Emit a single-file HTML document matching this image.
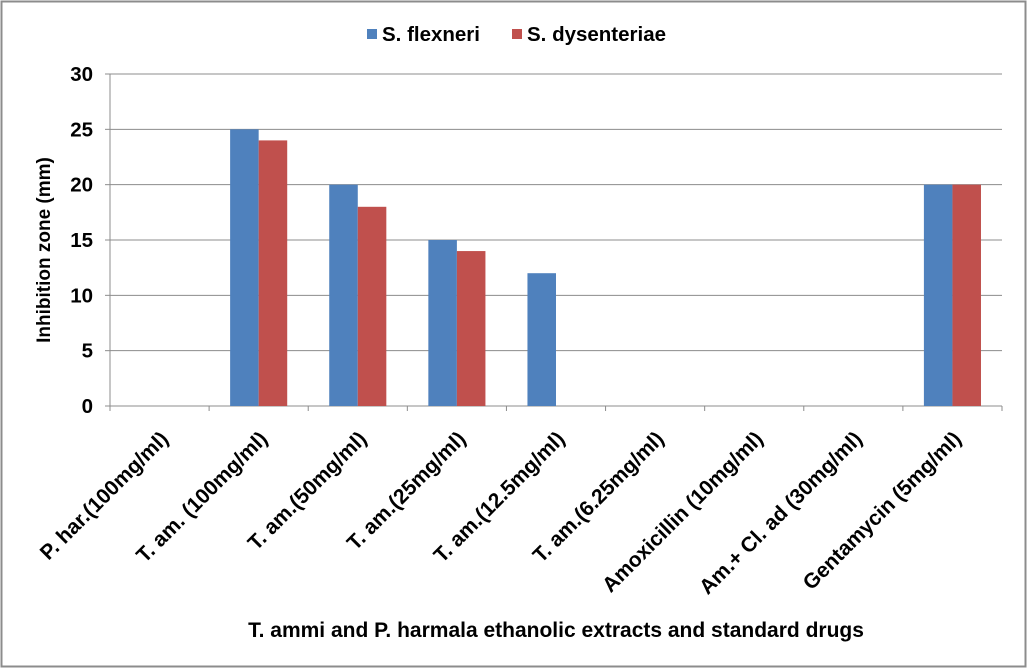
<!DOCTYPE html>
<html><head><meta charset="utf-8"><style>
html,body{margin:0;padding:0;background:#fff}
svg{display:block;font-family:"Liberation Sans",Arial,sans-serif;font-weight:bold}
</style></head><body>
<svg id="chart" width="1028" height="669">
<rect x="1.5" y="1.5" width="1024" height="665" fill="#fff" stroke="#8c8c8c" stroke-width="2"/>
<g id="grid"></g><g id="bars"></g><g id="axes"></g>
<g>
<rect x="367" y="29" width="10" height="10" fill="#4f81bd"/>
<text x="382" y="41" font-size="20.5">S. flexneri</text>
<rect x="512" y="29" width="10" height="10" fill="#c0504d"/>
<text x="527" y="41" font-size="20.5">S. dysenteriae</text>
</g>
<text transform="translate(50,250) rotate(-90)" text-anchor="middle" font-size="19">Inhibition zone (mm)</text>
<text x="556" y="637" text-anchor="middle" font-size="21">T. ammi  and P. harmala ethanolic extracts and standard drugs</text>
</svg>
<script>
const categories=["P. har.(100mg/ml)","T. am. (100mg/ml)","T. am.(50mg/ml)","T. am.(25mg/ml)","T. am.(12.5mg/ml)","T. am.(6.25mg/ml)","Amoxicillin (10mg/ml)","Am.+ Cl. ad (30mg/ml)","Gentamycin (5mg/ml)"];
const flexneri=[0,25,20,15,12,0,0,0,20];
const dysenteriae=[0,24,18,14,0,0,0,0,20];
const yTicks=[0,5,10,15,20,25,30];
const NS="http://www.w3.org/2000/svg";
const X0=110,X1=1002,Y0=406,Y1=74,YMAX=30;
const bw=(X1-X0)/categories.length;
const y=v=>Y0-(v/YMAX)*(Y0-Y1);
function mk(tag,attrs,parent){const e=document.createElementNS(NS,tag);for(const k in attrs)e.setAttribute(k,attrs[k]);parent.appendChild(e);return e;}
const grid=document.getElementById('grid'),bars=document.getElementById('bars'),axes=document.getElementById('axes');
yTicks.forEach(t=>{
  const l=mk('line',{x1:X0,x2:X1,y1:y(t),y2:y(t),stroke:'#8c8c8c','stroke-width':1},grid);
  
  
  const tk=mk('line',{x1:X0-5,x2:X0,y1:y(t),y2:y(t),stroke:'#8c8c8c'},axes);
  
  
  const tx=mk('text',{x:93,y:y(t)+7,'text-anchor':'end','font-size':20.5},axes);
  tx.textContent=t;
  
  
});
const ya=mk('line',{x1:X0,x2:X0,y1:Y1,y2:Y0,stroke:'#8c8c8c'},axes);


const barW=bw*0.288;
categories.forEach((c,i)=>{
  const cx=X0+bw*i+bw/2;
  [[flexneri,'#4f81bd',-1,'flexneri'],[dysenteriae,'#c0504d',0,'dysenteriae']].forEach(([arr,col,off,nm])=>{
    const v=arr[i]; if(!v)return;
    const r=mk('rect',{x:cx+off*barW,y:y(v),width:barW,height:Y0-y(v),fill:col},bars);
    
    
  });
  const tk=mk('line',{x1:X0+bw*i,x2:X0+bw*i,y1:Y0,y2:Y0+5,stroke:'#8c8c8c'},axes);
  
  
  const t=mk('text',{transform:`translate(${cx+10},${Y0+34}) rotate(-45)`,'text-anchor':'end','font-size':21},axes);
  t.textContent=c;
  
  
});
const tk=mk('line',{x1:X1,x2:X1,y1:Y0,y2:Y0+5,stroke:'#8c8c8c'},axes);


</script>
</body></html>
